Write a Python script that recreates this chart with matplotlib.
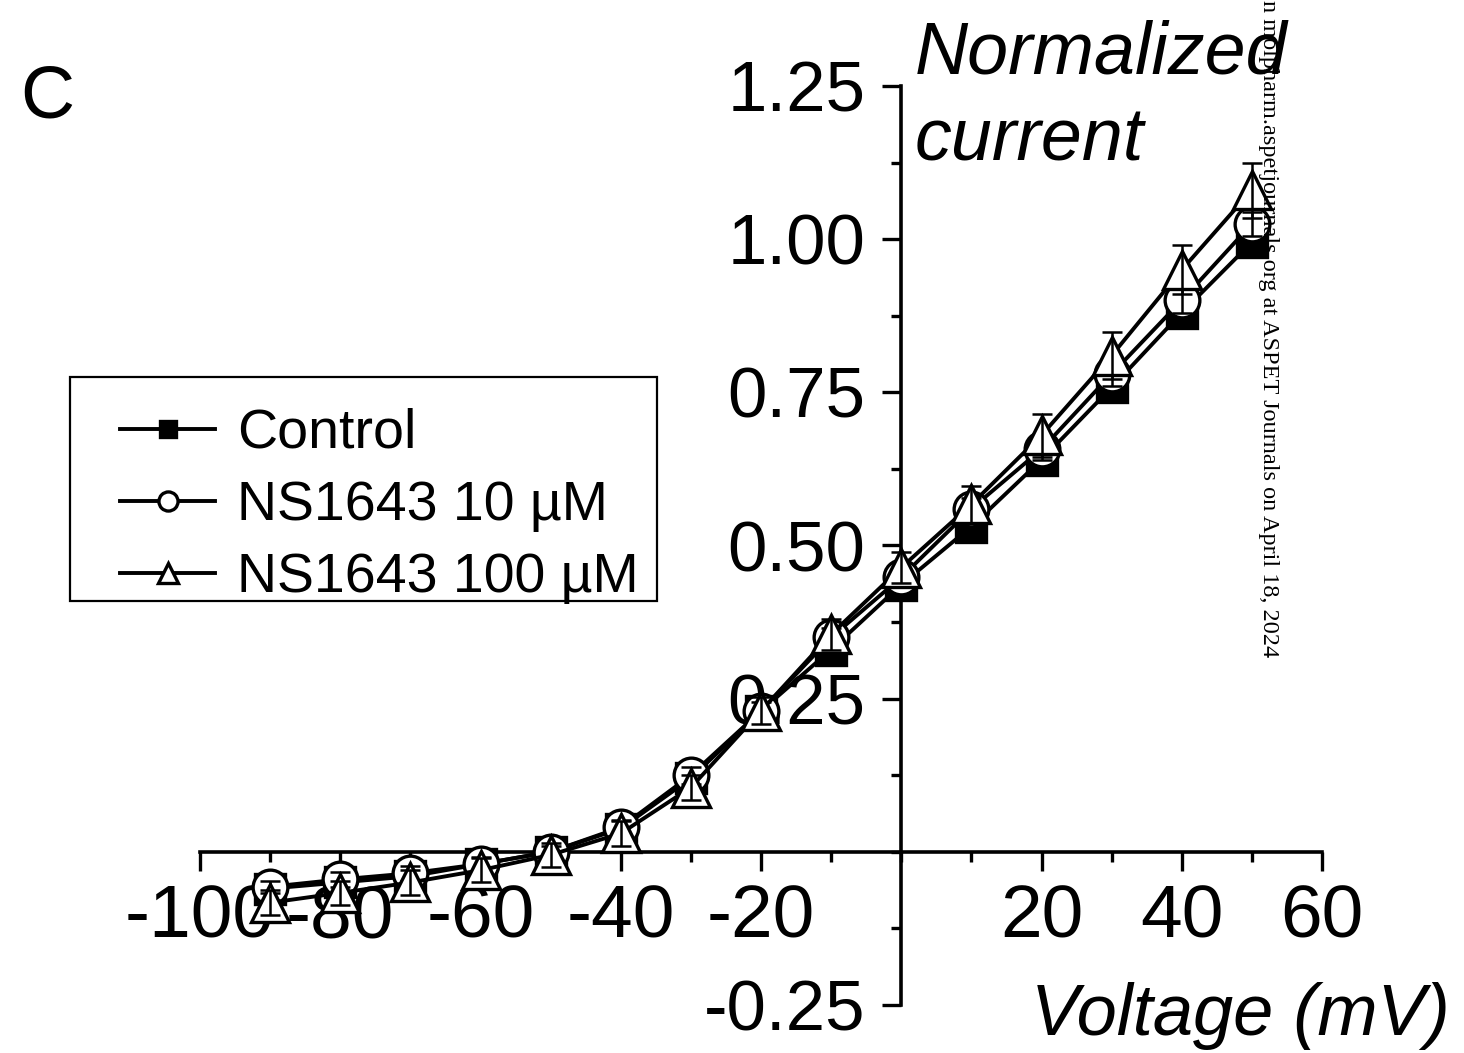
import matplotlib
matplotlib.use("Agg")
import matplotlib.pyplot as plt
from matplotlib.patches import Rectangle
from matplotlib.ticker import MultipleLocator, FixedLocator

plt.rcParams['font.family'] = ['Liberation Sans', 'DejaVu Sans']

# data
voltage = [-90, -80, -70, -60, -50, -40, -30, -20, -10, 0, 10, 20, 30, 40, 50]
control = [-0.06, -0.05, -0.04, -0.02, 0.0, 0.038, 0.12, 0.23, 0.33, 0.436, 0.531, 0.64, 0.758, 0.88, 0.995]
control_err = [0.01, 0.01, 0.01, 0.01, 0.01, 0.01, 0.01, 0.01, 0.01, 0.012, 0.012, 0.014, 0.015, 0.016, 0.018]
ns10 = [-0.057, -0.045, -0.035, -0.02, 0.0, 0.04, 0.125, 0.23, 0.35, 0.448, 0.56, 0.657, 0.78, 0.90, 1.025]
ns10_err = [0.01, 0.012, 0.012, 0.012, 0.01, 0.012, 0.014, 0.015, 0.016, 0.016, 0.018, 0.018, 0.02, 0.02, 0.02]
ns100 = [-0.083, -0.067, -0.05, -0.03, -0.005, 0.03, 0.105, 0.23, 0.355, 0.464, 0.567, 0.68, 0.81, 0.95, 1.08]
ns100_err = [0.02, 0.02, 0.02, 0.02, 0.02, 0.02, 0.02, 0.022, 0.025, 0.025, 0.03, 0.035, 0.038, 0.04, 0.045]

xticks = [-100, -80, -60, -40, -20, 20, 40, 60]
yticks = [-0.25, 0.25, 0.50, 0.75, 1.00, 1.25]

W, H = 1464, 1053
fig = plt.figure(figsize=(W / 100, H / 100), dpi=100)
ax = fig.add_axes([200 / W, 48 / H, 1122 / W, 919 / H])

lw = 2.8
series = [
    (voltage, control, control_err, 's', 'black', 21, 'Control'),
    (voltage, ns10, ns10_err, 'o', 'white', 25, 'NS1643 10 µM'),
    (voltage, ns100, ns100_err, '^', 'white', 27, 'NS1643 100 µM'),
]
handles = []
for i, (x, y, e, m, fc, ms, lab) in enumerate(series):
    h, = ax.plot(x, y, color='black', lw=lw, marker=m, markersize=ms,
                 markerfacecolor=fc, markeredgecolor='black', markeredgewidth=2.4,
                 label=lab, zorder=3 + i, clip_on=False)
    ax.errorbar(x, y, yerr=e, fmt='none', ecolor='black', elinewidth=1.8,
                capsize=7, capthick=1.8, zorder=3.5 + i, clip_on=False)
    handles.append(h)

ax.set_xlim(-100, 60)
ax.set_ylim(-0.25, 1.25)
for s in ['top', 'right']:
    ax.spines[s].set_visible(False)
ax.spines['left'].set_position(('data', 0))
ax.spines['bottom'].set_position(('data', 0))
for s in ['left', 'bottom']:
    ax.spines[s].set_linewidth(2.6)
    ax.spines[s].set_zorder(2)

ax.xaxis.set_major_locator(FixedLocator(xticks))
ax.xaxis.set_minor_locator(MultipleLocator(10))
ax.yaxis.set_major_locator(FixedLocator(yticks))
ax.yaxis.set_minor_locator(MultipleLocator(0.125))
ax.set_xticklabels([str(v) for v in xticks])
ax.set_yticklabels(['%.2f' % v for v in yticks])
ax.tick_params(axis='both', which='major', direction='out', length=14, width=2.4)
ax.tick_params(axis='both', which='minor', direction='out', length=7, width=2.4)
ax.tick_params(axis='x', which='major', pad=9, labelsize=54)
ax.tick_params(axis='y', which='major', pad=12, labelsize=51)
ax.patch.set_visible(False)

# legend without its own frame, box drawn separately
fig.patches.append(Rectangle((70 / W, 1 - 601 / H), 587 / W, 224 / H,
                             transform=fig.transFigure, fill=False,
                             edgecolor='black', lw=1.6))
leg = ax.legend(handles=handles, loc='upper left',
                bbox_to_anchor=(120 / W, 1 - 408 / H),
                bbox_transform=fig.transFigure, fontsize=40, markerscale=0.55,
                handlelength=1.71, handletextpad=0.4, borderpad=0,
                borderaxespad=0, labelspacing=0.36, frameon=False)

fig.text(915 / W, 1 - 20 / H, 'Normalized\ncurrent', fontsize=53,
         style='italic', ha='left', va='top', linespacing=1.33)
fig.text(1450 / W, 1 - 1035 / H, 'Voltage (mV)', fontsize=52,
         style='italic', ha='right', va='baseline')
fig.text(20 / W, 1 - 118 / H, 'C', fontsize=54, ha='left', va='baseline')
fig.text(1268 / W, 1.0, 'n molpharm.aspetjournals.org at ASPET Journals on April 18, 2024',
         family='Liberation Serif', fontsize=17.5, rotation=-90, ha='center', va='top')

fig.savefig('out.png', dpi=100)
